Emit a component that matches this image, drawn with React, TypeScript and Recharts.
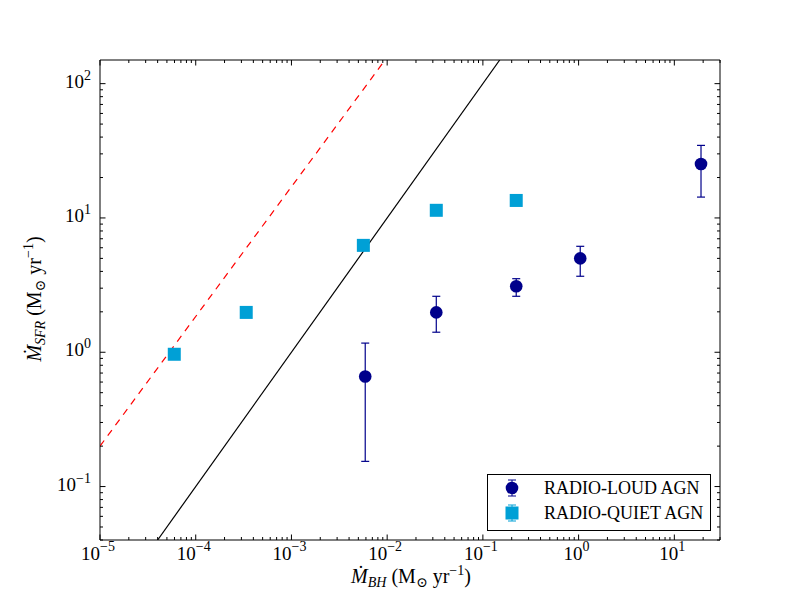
import React from 'react';
import {
  ComposedChart,
  Scatter,
  ErrorBar,
  XAxis,
  YAxis,
} from 'recharts';

// radio-loud AGN (circles with error bars)
const loudBHAR = [5.9e-3, 0.0326, 0.223, 1.04, 19.0];
const loudSFR = [0.66, 1.98, 3.1, 5.0, 25.2];
const loudLow = [0.154, 1.41, 2.61, 3.68, 14.3];
const loudHigh = [1.17, 2.61, 3.53, 6.15, 34.7];

// radio-quiet AGN (squares)
const quietBHAR = [5.97e-5, 3.37e-4, 5.64e-3, 0.0326, 0.223];
const quietSFR = [0.966, 1.98, 6.25, 11.4, 13.5];

// reference lines (end points on the frame)
const solidLineX = [4.0e-5, 0.15];
const solidLineY = [0.04, 150];
const dashedLineX = [1e-5, 9.5e-3];
const dashedLineY = [0.2, 150];

const xMajorTicks = [1e-5, 1e-4, 1e-3, 1e-2, 1e-1, 1, 10];
const yMajorTicks = [0.1, 1, 10, 100];
const minorSteps = [2, 3, 4, 5, 6, 7, 8, 9];

const X_DOMAIN: [number, number] = [1e-5, 30];
const Y_DOMAIN: [number, number] = [0.04, 150];

const FONT = '"Liberation Serif", "DejaVu Serif", serif';
const DARK = '#00008B';
const LIGHT = '#00A0D6';

const withMinors = (majors: number[], lo: number, hi: number) => {
  const out: number[] = [];
  majors.concat([majors[0] / 10]).forEach((m) => {
    minorSteps.forEach((s) => out.push(m * s));
  });
  return majors.concat(out).filter((v) => v >= lo * 0.999 && v <= hi * 1.001).sort((a, b) => a - b);
};

const xTicks = withMinors(xMajorTicks, X_DOMAIN[0], X_DOMAIN[1]);
const yTicks = withMinors(yMajorTicks, Y_DOMAIN[0], Y_DOMAIN[1]);

const isMajor = (v: number) => Math.abs(Math.log10(v) - Math.round(Math.log10(v))) < 1e-6;
const expText = (v: number) => {
  const e = Math.round(Math.log10(v));
  return e < 0 ? '\u2212' + Math.abs(e) : String(e);
};

const loudData = loudBHAR.map((x, i) => ({
  x,
  y: loudSFR[i],
  err: [loudSFR[i] - loudLow[i], loudHigh[i] - loudSFR[i]],
}));
const quietData = quietBHAR.map((x, i) => ({ x, y: quietSFR[i] }));
const solidData = solidLineX.map((x, i) => ({ x, y: solidLineY[i] }));
const dashedData = dashedLineX.map((x, i) => ({ x, y: dashedLineY[i] }));

const tickLen = (v: number) => (isMajor(v) ? 5.5 : 3);

const BottomTick = (props: any) => {
  const { x, y, payload } = props;
  const v = payload.value;
  return (
    <g>
      <line x1={x} x2={x} y1={y} y2={y - tickLen(v)} stroke="#000" strokeWidth={1} />
      {isMajor(v) && (
        <text x={x - 2} y={y + 20} textAnchor="middle" fontFamily={FONT} fontSize={19} fill="#000">
          10
          <tspan dy={-9} fontSize={14}>{expText(v)}</tspan>
        </text>
      )}
    </g>
  );
};

const TopTick = (props: any) => {
  const { x, y, payload } = props;
  const v = payload.value;
  return <line x1={x} x2={x} y1={y} y2={y + tickLen(v)} stroke="#000" strokeWidth={1} />;
};

const LeftTick = (props: any) => {
  const { x, y, payload } = props;
  const v = payload.value;
  return (
    <g>
      <line x1={x} x2={x + tickLen(v)} y1={y} y2={y} stroke="#000" strokeWidth={1} />
      {isMajor(v) && (
        <text x={x - 9} y={y + 4} textAnchor="end" fontFamily={FONT} fontSize={19} fill="#000">
          10
          <tspan dy={-8} fontSize={14}>{expText(v)}</tspan>
        </text>
      )}
    </g>
  );
};

const RightTick = (props: any) => {
  const { x, y, payload } = props;
  const v = payload.value;
  return <line x1={x} x2={x - tickLen(v)} y1={y} y2={y} stroke="#000" strokeWidth={1} />;
};

const Circle = (props: any) => <circle cx={props.cx} cy={props.cy} r={6.3} fill={DARK} />;
const Square = (props: any) => (
  <rect x={props.cx - 6.5} y={props.cy - 6.5} width={13} height={13} fill={LIGHT} />
);
const NoDot = () => <g />;

const XLabel = () => (
  <text x={411} y={583} textAnchor="middle" fontFamily={FONT} fontSize={20} fill="#000">
    <tspan fontStyle="italic">Ṁ</tspan>
    <tspan fontStyle="italic" fontSize={14} dy={4}>BH</tspan>
    <tspan dy={-4}> (M</tspan>
    <tspan fontSize={14} dy={4}>⊙</tspan>
    <tspan dy={-4}> yr</tspan>
    <tspan fontSize={14} dy={-8}>−1</tspan>
    <tspan dy={8}>)</tspan>
  </text>
);

const YLabel = () => (
  <text
    x={41}
    y={299}
    transform="rotate(-90, 41, 299)"
    textAnchor="middle"
    fontFamily={FONT}
    fontSize={20}
    fill="#000"
  >
    <tspan fontStyle="italic">Ṁ</tspan>
    <tspan fontStyle="italic" fontSize={14} dy={4}>SFR</tspan>
    <tspan dy={-4}> (M</tspan>
    <tspan fontSize={14} dy={4}>⊙</tspan>
    <tspan dy={-4}> yr</tspan>
    <tspan fontSize={14} dy={-8}>−1</tspan>
    <tspan dy={8}>)</tspan>
  </text>
);

function LegendBox() {
  return (
    <svg
      width={800}
      height={600}
      style={{ position: 'absolute', left: 0, top: 0, pointerEvents: 'none' }}
    >
      <rect x={487.5} y={474.5} width={223} height={56} fill="#fff" stroke="#000" strokeWidth={1} />
      <g stroke={DARK} strokeWidth={1}>
        <line x1={512} x2={512} y1={480} y2={496} />
        <line x1={508} x2={516} y1={480} y2={480} />
        <line x1={508} x2={516} y1={496} y2={496} />
      </g>
      <circle cx={512} cy={488} r={6.3} fill={DARK} />
      <g stroke={LIGHT} strokeWidth={1}>
        <line x1={512} x2={512} y1={505} y2={521} />
        <line x1={508} x2={516} y1={505} y2={505} />
        <line x1={508} x2={516} y1={521} y2={521} />
      </g>
      <rect x={505.5} y={506.5} width={13} height={13} fill={LIGHT} />
      <text x={544} y={494} fontFamily={FONT} fontSize={18} fill="#000">RADIO-LOUD AGN</text>
      <text x={544} y={519} fontFamily={FONT} fontSize={18} fill="#000">RADIO-QUIET AGN</text>
    </svg>
  );
}

export default function App() {
  return (
    <div style={{ position: 'absolute', left: 0, top: 0, width: 800, height: 600, background: '#fff' }}>
      <ComposedChart width={800} height={600} margin={{ top: 0, right: 0, bottom: 0, left: 0 }}>
        <XAxis
          xAxisId="b"
          type="number"
          dataKey="x"
          scale="log"
          domain={X_DOMAIN}
          allowDataOverflow
          ticks={xTicks}
          interval={0}
          orientation="bottom"
          height={60}
          tickSize={0}
          tickMargin={0}
          tickLine={false}
          axisLine={{ stroke: '#000', strokeWidth: 1 }}
          tick={<BottomTick />}
          label={{ content: () => <XLabel /> }}
        />
        <XAxis
          xAxisId="t"
          type="number"
          dataKey="x"
          scale="log"
          domain={X_DOMAIN}
          allowDataOverflow
          ticks={xTicks}
          interval={0}
          orientation="top"
          height={60}
          tickSize={0}
          tickMargin={0}
          tickLine={false}
          axisLine={{ stroke: '#000', strokeWidth: 1 }}
          tick={<TopTick />}
        />
        <YAxis
          yAxisId="l"
          type="number"
          dataKey="y"
          scale="log"
          domain={Y_DOMAIN}
          allowDataOverflow
          ticks={yTicks}
          interval={0}
          orientation="left"
          width={100}
          tickSize={0}
          tickMargin={0}
          tickLine={false}
          axisLine={{ stroke: '#000', strokeWidth: 1 }}
          tick={<LeftTick />}
          label={{ content: () => <YLabel /> }}
        />
        <YAxis
          yAxisId="r"
          type="number"
          dataKey="y"
          scale="log"
          domain={Y_DOMAIN}
          allowDataOverflow
          ticks={yTicks}
          interval={0}
          orientation="right"
          width={80}
          tickSize={0}
          tickMargin={0}
          tickLine={false}
          axisLine={{ stroke: '#000', strokeWidth: 1 }}
          tick={<RightTick />}
        />
        <Scatter
          xAxisId="b"
          yAxisId="l"
          data={dashedData}
          line={{ stroke: '#ff0000', strokeWidth: 1.2, strokeDasharray: '7 6' }}
          shape={<NoDot />}
          isAnimationActive={false}
        />
        <Scatter
          xAxisId="b"
          yAxisId="l"
          data={solidData}
          line={{ stroke: '#000', strokeWidth: 1.2 }}
          shape={<NoDot />}
          isAnimationActive={false}
        />
        <Scatter
          xAxisId="b"
          yAxisId="l"
          data={loudData}
          shape={<Circle />}
          isAnimationActive={false}
        >
          <ErrorBar dataKey="err" direction="y" width={4} stroke={DARK} strokeWidth={1.2} isAnimationActive={false} />
        </Scatter>
        <Scatter
          xAxisId="b"
          yAxisId="l"
          data={quietData}
          shape={<Square />}
          isAnimationActive={false}
        />
      </ComposedChart>
      <LegendBox />
    </div>
  );
}
